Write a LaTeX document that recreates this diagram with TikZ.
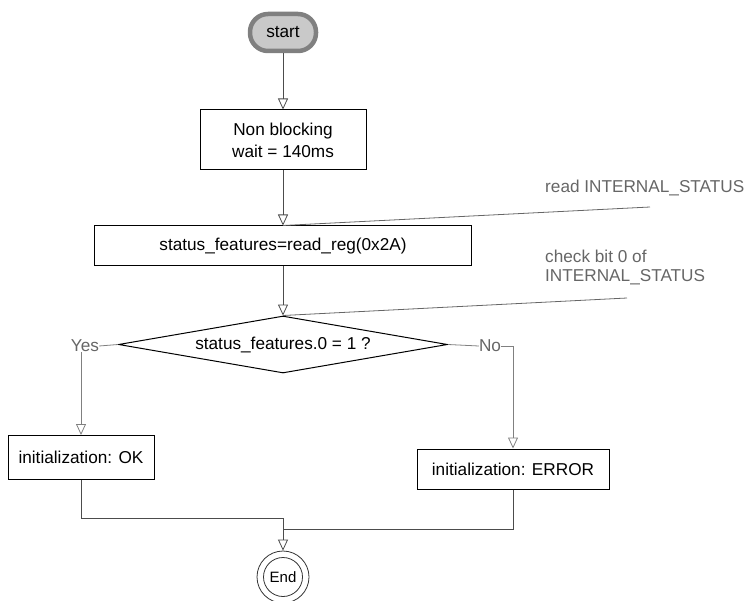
\documentclass[tikz,border=0pt]{standalone}
\usepackage{fontspec}
\setmainfont{Liberation Sans}
\usetikzlibrary{shapes.geometric}
\usetikzlibrary{arrows.meta}

\begin{document}
\begin{tikzpicture}[x=1pt,y=-1pt,font=\fontsize{17.2}{22}\selectfont,
  box/.style={rectangle,draw,line width=1pt,inner sep=0pt},
  flow/.style={draw=black!70,line width=0.8pt,-{Triangle[open,length=11pt,width=10pt]}},
  branch/.style={draw=black!50,line width=0.8pt},
  note/.style={draw=black!60,line width=0.8pt},
  notetext/.style={text=black!60,inner sep=0pt}]
\useasboundingbox (0,0) rectangle (751,601);

% start / wait
\node[rectangle,rounded corners=18pt,draw=black!50,fill=black!21,line width=4.5pt,
  minimum width=66pt,minimum height=37pt] (start) at (283,32.5) {start};
\node[box,minimum width=166pt,minimum height=60pt,align=center] (wait) at (283,140) {Non blocking\\wait = 140ms};

% read register
\node[box,minimum width=377pt,minimum height=40pt] (rd) at (283,246) {status\_features=read\_reg(0x2A)};
\node[notetext,anchor=west] (readnote) at (545,188) {read INTERNAL\_STATUS};
\coordinate (readptr) at (650,207);

% check bit
\node[diamond,draw,line width=1pt,inner sep=0pt,aspect=5.8,minimum width=329pt,minimum height=57pt] (chk) at (283,344.5) {status\_features.0 = 1 ?};
\node[notetext,anchor=west,align=left,font=\fontsize{17.2}{19}\selectfont] (chknote) at (545,267) {check bit 0 of\\INTERNAL\_STATUS};
\coordinate (chkptr) at (627,298);

\node[notetext] (yes) at (85,346) {Yes};
\node[notetext] (no) at (490,346) {No};

% results
\node[box,minimum width=146pt,minimum height=44pt] (ok) at (81,457.5) {initialization: OK};
\node[box,minimum width=192pt,minimum height=40pt] (err) at (513,469) {initialization: ERROR};

% end
\node[circle,draw=black!80,line width=0.8pt,minimum size=52pt,inner sep=0pt] (endring) at (283,577) {};
\node[circle,draw=black!80,line width=0.8pt,minimum size=39pt,inner sep=0pt,font=\fontsize{15}{17}\selectfont] (fin) at (283,577) {End};

\coordinate (joinA) at (283,518);
\coordinate (joinB) at (283,529);

\draw[flow] (start) -- (wait);
\draw[flow] (wait) -- (rd);
\draw[flow] (rd) -- (chk);

\draw[note] (readptr) -- (rd.north);
\draw[note] (chkptr) -- (chk.north);

\draw[branch] (chk.west) -- (yes.east);
\draw[branch,-{Triangle[open,length=11pt,width=10pt]}] (yes.south -| ok.north) -- (ok.north);
\draw[branch] (chk.east) -- (no.west);
\draw[branch,-{Triangle[open,length=11pt,width=10pt]}] (no.east) -| (err.north);

\draw[flow,-] (ok.south) |- (joinA);
\draw[flow,-] (err.south) |- (joinB);
\draw[flow] (joinA) -- (endring.north);

\end{tikzpicture}
\end{document}
